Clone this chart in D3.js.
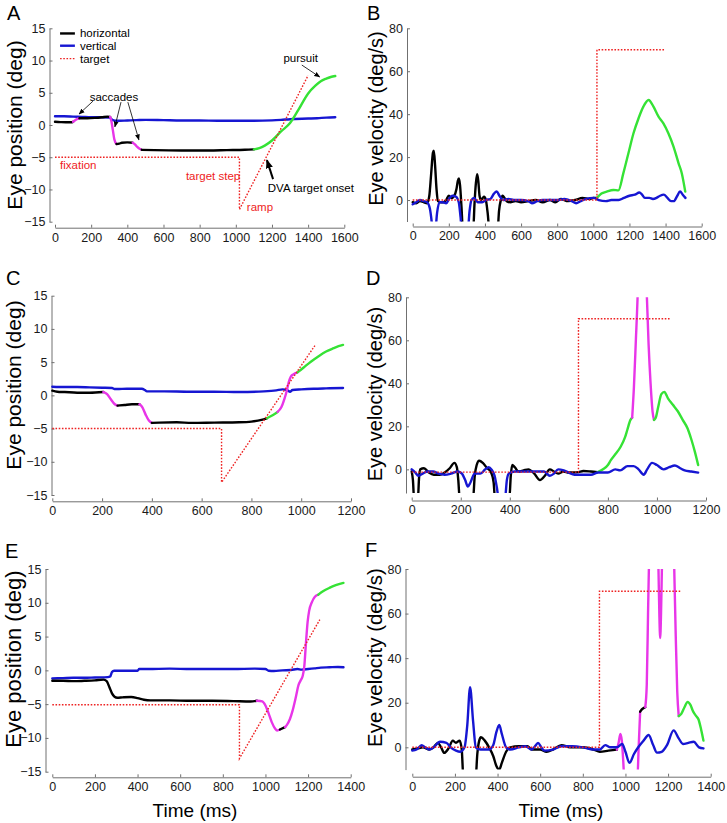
<!DOCTYPE html>
<html><head><meta charset="utf-8">
<script src="https://cdn.jsdelivr.net/npm/d3@7"></script>
<style>
body{margin:0;background:#fff;}
svg{display:block;font-family:"Liberation Sans",Arial,Helvetica,sans-serif;}
</style></head><body>
<svg id="chart" width="727" height="823"></svg>
<script>
// ---------------- DATA ----------------
// tick labels
const xTicks1600 = [0,200,400,600,800,1000,1200,1400,1600];
const xTicks1200 = [0,200,400,600,800,1000,1200];
const xTicks1400 = [0,200,400,600,800,1000,1200,1400];
const yTicksPos = [-15,-10,-5,0,5,10,15];
const yTicksVel = [0,20,40,60,80];

// Panel A: eye position (deg) vs time (ms)
const posA_h = [[0,0.5],[30,0.45],[60,0.42],[90,0.42],[100,0.5],[110,0.7],[120,0.9],[135,1.05],[180,1.05],[220,1.1],[260,1.2],[290,1.3],[305,1.25],[312,0.6],[320,-0.8],[328,-2.2],[340,-2.95],[355,-2.9],[370,-2.75],[400,-2.7],[430,-2.75],[442,-3.0],[455,-3.4],[468,-3.7],[480,-3.85],[550,-3.9],[700,-3.95],[850,-3.95],[950,-3.9],[1050,-3.85],[1100,-3.78],[1130,-3.6],[1160,-3.2],[1200,-2.4],[1250,-1.0],[1300,0.3],[1345,2.3],[1400,4.9],[1440,6.1],[1470,6.8],[1500,7.2],[1525,7.45],[1550,7.6]];
const posA_phase = [[0,100,'fix'],[100,135,'sac'],[135,305,'fix'],[305,340,'sac'],[340,430,'fix'],[430,480,'sac'],[480,1100,'fix'],[1100,1550,'pur']];
const posA_v = [[0,1.35],[50,1.35],[100,1.3],[150,1.25],[200,1.2],[250,1.2],[300,1.15],[320,0.75],[340,0.65],[400,0.7],[450,0.75],[500,0.8],[600,0.75],[700,0.7],[800,0.7],[900,0.65],[1000,0.65],[1100,0.65],[1200,0.72],[1250,0.8],[1300,0.9],[1400,1.0],[1450,1.05],[1500,1.15],[1550,1.2]];
const posA_target = [[0,-5],[1020,-5],[1020,-13.1],[1400,7.7]];

// Panel B: eye velocity (deg/s)
const velB_h = [[0,-1],[20,-1.5],[40,-0.5],[60,-1],[80,-1.5],[92,2],[102,12],[112,22],[117,23],[124,16],[132,5],[140,-0.5],[155,-1],[170,-1],[185,0],[200,2],[215,1],[230,2],[242,5],[250,9],[256,10],[262,7],[270,-3],[278,-14],[335,-14],[342,-2],[350,8],[357,12],[363,9],[370,2],[378,0],[388,1],[395,1.5],[405,0],[415,-6],[425,-14],[470,-14],[478,-5],[488,0],[498,2],[508,1],[520,-0.5],[540,-1],[570,-0.5],[600,-1],[640,-0.5],[680,0],[720,-1],[760,0],[790,-1],[820,0.5],[860,-0.5],[900,0],[940,1],[980,0.5],[1000,1],[1020,1],[1045,3],[1074,3.9],[1111,4.7],[1139,4.5],[1166,12.4],[1195,22],[1222,31],[1250,38],[1277,43.5],[1306,46.6],[1333,43.5],[1361,38.9],[1388,35.7],[1416,31],[1444,24.9],[1472,17.1],[1490,12.4],[1509,3.9]];
const velB_phase = [[0,1020,'fix'],[1020,1509,'pur']];
const velB_v = [[0,-2],[20,-1],[40,0],[60,-0.5],[80,-1],[95,-4],[105,-10],[110,-14],[125,-14],[135,-6],[148,-1],[165,-1],[185,-1.5],[205,1],[220,2],[240,1.5],[255,-1],[265,-8],[272,-14],[305,-14],[315,-5],[325,0],[340,1],[360,-1],[385,-1],[405,0],[430,0.5],[450,3],[465,4],[480,2],[500,0],[530,0.5],[560,0],[600,0],[640,-0.5],[660,-1.5],[690,-0.5],[720,0],[760,0],[800,0],[840,0.5],[880,-0.5],[905,-1.5],[930,-0.5],[960,0.5],[1000,1],[1030,0],[1070,-0.5],[1100,0],[1140,0],[1170,1],[1200,2],[1230,2.5],[1255,3.5],[1270,2.5],[1285,1],[1310,1],[1330,0.5],[1350,1],[1370,2],[1390,2.5],[1410,1],[1430,-0.5],[1445,-0.5],[1465,2],[1480,4],[1495,2.5],[1510,1]];
const velB_target = [[0,0],[1020,0],[1020,70],[1395,70]];

// Panel C: eye position
const posC_h = [[0,0.7],[20,0.55],[50,0.5],[100,0.4],[150,0.4],[205,0.5],[220,0.2],[235,-0.6],[250,-1.3],[262,-1.55],[290,-1.45],[320,-1.35],[350,-1.35],[362,-1.8],[375,-2.9],[388,-3.8],[400,-4.15],[430,-4.1],[500,-4.05],[560,-4.15],[650,-4.1],[750,-4.05],[800,-3.95],[840,-3.7],[862,-3.45],[885,-3.0],[905,-2.5],[920,-1.8],[932,-0.6],[942,0.7],[950,2.0],[958,2.8],[968,3.15],[985,3.45],[1010,4.2],[1040,5.1],[1070,5.9],[1100,6.6],[1130,7.1],[1150,7.4],[1168,7.6]];
const posC_phase = [[0,205,'fix'],[205,262,'sac'],[262,350,'fix'],[350,400,'sac'],[400,862,'fix'],[862,905,'pur'],[905,985,'sac'],[985,1168,'pur']];
const posC_v = [[0,1.3],[50,1.25],[100,1.25],[150,1.2],[200,1.15],[240,1.1],[250,0.95],[260,0.95],[300,1.0],[360,1.0],[372,0.8],[380,0.6],[450,0.6],[550,0.55],[650,0.55],[750,0.5],[850,0.6],[900,0.75],[925,0.9],[945,0.75],[955,0.55],[965,0.8],[1000,0.9],[1050,1.0],[1100,1.05],[1168,1.1]];
const posC_target = [[0,-5],[680,-5],[680,-13.1],[1055,7.5]];

// Panel D: eye velocity
const velD_h = [[0,-1],[5,-5],[10,-14],[25,-14],[30,-4],[35,0],[50,0.5],[70,-1.5],[90,-2.5],[115,-2.5],[134,-1.5],[155,0.5],[174,3],[184,1],[190,-5],[196,-14],[250,-14],[257,-3],[265,2],[275,4],[290,3],[308,0.5],[322,-1],[334,-6],[340,-14],[398,-14],[404,-3],[410,2],[420,1],[436,-1],[456,-0.5],[476,0],[500,-2],[523,-5],[543,-3],[563,0],[580,-1],[597,-2],[620,-1],[640,-1.5],[660,-1.5],[680,-1.3],[700,-0.8],[730,-1],[758,-1.3],[780,0],[800,2],[812,4.3],[830,7],[852,10.5],[870,15],[879,18.3],[892,23],[899,24],[906,38],[914,60],[921,80],[928,110],[952,110],[959,80],[966,58],[974,40],[982,27],[988,23],[995,24],[1005,29],[1018,35],[1030,36],[1045,33],[1065,30],[1085,27],[1105,23],[1125,19],[1140,14],[1155,8],[1168,2]];
const velD_phase = [[0,758,'fix'],[758,899,'pur'],[899,988,'sac'],[988,1168,'pur']];
const velD_v = [[0,0],[15,-1.5],[27,-3],[45,-2],[65,-1],[87,-1],[110,-2],[134,-2.5],[160,-2],[188,-1],[205,-2],[218,-5],[229,-8],[240,-6],[256,-2],[280,-2],[300,0],[314,1],[325,0],[338,-3],[348,-9],[355,-14],[380,-14],[388,-5],[396,-2],[420,-1],[450,-1],[500,-1],[540,-1],[563,-3],[580,-2],[597,0],[620,-0.5],[640,-1.5],[664,-2.5],[700,-2.5],[731,-2.5],[760,-1.5],[800,-1.5],[830,0],[850,-0.5],[880,1.5],[905,1.5],[925,0],[946,-2.5],[960,0],[980,3],[1000,2],[1027,0],[1050,1],[1073,1.8],[1095,0.5],[1113,-0.5],[1140,-1],[1168,-1.5]];
const velD_target = [[0,-1.3],[680,-1.3],[680,70],[1055,70]];

// Panel E: eye position
const posE_h = [[0,-1.55],[50,-1.55],[100,-1.6],[150,-1.55],[200,-1.48],[240,-1.38],[255,-1.6],[268,-2.5],[280,-3.4],[292,-3.9],[305,-4.05],[330,-4.0],[370,-3.95],[400,-4.1],[430,-4.35],[460,-4.45],[550,-4.45],[650,-4.5],[750,-4.5],[850,-4.55],[930,-4.6],[960,-4.5],[985,-4.6],[1000,-5.2],[1014,-6.3],[1030,-7.7],[1045,-8.6],[1055,-8.9],[1068,-8.75],[1092,-8.4],[1100,-8.1],[1115,-7.2],[1127,-6.0],[1143,-3.9],[1155,-2.2],[1165,-1.5],[1175,-0.8],[1182,0.5],[1190,4.0],[1198,7.2],[1205,8.8],[1218,10.1],[1232,10.9],[1248,11.2],[1270,11.7],[1300,12.2],[1330,12.6],[1366,12.95]];
const posE_phase = [[0,960,'fix'],[960,1068,'sac'],[1068,1092,'fix'],[1092,1248,'sac'],[1248,1366,'pur']];
const posE_v = [[0,-1.2],[50,-1.15],[100,-1.1],[150,-1.1],[200,-1.05],[260,-1.0],[272,-0.9],[280,-0.25],[290,-0.05],[350,-0.05],[400,-0.05],[408,0.2],[450,0.2],[550,0.25],[650,0.2],[750,0.2],[850,0.2],[950,0.25],[1000,0.2],[1015,-0.05],[1040,-0.1],[1080,0.0],[1120,0.05],[1150,0.2],[1170,0.1],[1200,0.2],[1230,0.3],[1260,0.4],[1300,0.45],[1340,0.5],[1366,0.45]];
const posE_target = [[0,-5.1],[878,-5.1],[878,-13.05],[1255,7.5]];

// Panel F: eye velocity
const velF_h = [[0,-1],[25,-0.5],[50,0],[80,-1],[100,0],[120,2],[135,0],[150,-2.5],[170,-0.5],[190,3],[205,2],[222,3],[232,-1],[240,-14],[297,-14],[305,-3],[314,3],[322,4.5],[340,3],[360,0],[380,-4],[395,-8.5],[408,-10],[420,-7],[440,-2],[460,0],[500,0.5],[540,0.5],[560,-1],[600,-1],[630,-2],[660,-1],[700,1],[740,0],[800,0],[850,-1],[880,-2],[920,-1.5],[960,-1],[968,2],[976,6],[983,3],[989,-5],[995,-14],[1056,-14],[1062,0],[1069,16],[1077,17],[1093,18],[1100,28],[1106,60],[1112,90],[1118,110],[1148,110],[1155,80],[1159,60],[1163,49],[1167,60],[1171,80],[1177,110],[1222,110],[1229,80],[1236,50],[1243,25],[1250,14],[1262,15],[1277,18],[1292,20.4],[1305,19],[1318,16],[1332,14],[1343,12.5],[1355,8],[1366,3]];
const velF_phase = [[0,960,'fix'],[960,1069,'sac'],[1069,1093,'fix'],[1093,1250,'sac'],[1250,1366,'pur']];
const velF_v = [[0,-1.5],[20,-1],[44,1],[60,0],[80,-1],[100,0],[130,2.5],[160,2],[180,0],[205,-1.5],[225,-2],[245,0],[258,10],[271,27],[285,12],[298,0],[320,-1],[360,-1],[380,1],[395,7],[408,10],[420,6],[440,0],[460,-1],[500,0],[530,0.5],[560,-1],[580,1],[590,2],[605,0],[620,-1.5],[660,-1],[700,0.5],[750,0.5],[800,0],[850,-1],[880,-1],[905,1],[930,0],[960,0],[985,1.5],[1000,-2],[1019,-7],[1040,-3],[1060,0],[1085,3],[1109,5.5],[1130,1],[1148,-2.4],[1170,-2],[1195,1],[1226,7.6],[1250,4],[1270,1.5],[1295,2],[1320,2.5],[1345,0],[1366,-0.5]];
const velF_target = [[0,0],[878,0],[878,70],[1257,70]];

// legend + annotations (panel A, data coordinates)
const legendItems = [['horizontal','h'],['vertical','v'],['target','t']];
const annotationsA = [
  {text:'saccades', at:[326,3.8], anchor:'middle', red:false},
  {text:'pursuit', at:[1359,9.8], anchor:'middle', red:false},
  {text:'DVA target onset', at:[1177,-10.4], anchor:'start', red:false},
  {text:'fixation', at:[28,-6.8], anchor:'start', red:true},
  {text:'target step', at:[724,-8.6], anchor:'start', red:true},
  {text:'ramp', at:[1061,-13.3], anchor:'start', red:true}
];
const arrowsA = [
  {from:[210,3.7], to:[133,1.7], bold:false},
  {from:[365,3.55], to:[331,-0.3], bold:false},
  {from:[403,3.55], to:[464,-2.3], bold:false},
  {from:[1365,9.3], to:[1464,7.45], bold:false},
  {from:[1206,-8.4], to:[1172,-5.45], bold:true}
];

// ---------------- LAYOUT / STYLE ----------------
const phaseColor = {fix:'#000000', sac:'#e835e8', pur:'#35e235'};
const colV = '#1616d2', colT = '#ee2222', axisCol = '#707070', textCol = '#1a1a1a';

const panels = [
  {id:'A', kind:'pos', h:posA_h, ph:posA_phase, v:posA_v, t:posA_target, xDomain:[0,1600], xRange:[55,344.3], xTicks:xTicks1600,
   yDomain:[-15,15], yRange:[221.7,28.3], yAxisX:49.5, xAxisY:227.7, ylab:[22,125], ylabSize:21, letter:[7,20]},
  {id:'B', kind:'vel', h:velB_h, ph:velB_phase, v:velB_v, t:velB_target, xDomain:[0,1600], xRange:[412.7,701.7], xTicks:xTicks1600,
   yDomain:[-10,80], yRange:[221.5,28.3], yAxisX:407, xAxisY:226.5, ylab:[382.5,118.5], ylabSize:20, letter:[367,20]},
  {id:'C', kind:'pos', h:posC_h, ph:posC_phase, v:posC_v, t:posC_target, xDomain:[0,1200], xRange:[52.3,351], xTicks:xTicks1200,
   yDomain:[-15,15], yRange:[495,295.7], yAxisX:51.5, xAxisY:501.3, ylab:[21,385], ylabSize:21, letter:[6,285]},
  {id:'D', kind:'vel', h:velD_h, ph:velD_phase, v:velD_v, t:velD_target, xDomain:[0,1200], xRange:[411.7,706], xTicks:xTicks1200,
   yDomain:[-11,80], yRange:[493,297.3], yAxisX:406, xAxisY:500.5, ylab:[381.5,394], ylabSize:20, letter:[366,285]},
  {id:'E', kind:'pos', h:posE_h, ph:posE_phase, v:posE_v, t:posE_target, xDomain:[0,1400], xRange:[52.3,350.7], xTicks:xTicks1400,
   yDomain:[-15,15], yRange:[771.7,569], yAxisX:45.5, xAxisY:777.3, ylab:[21,659], ylabSize:22, letter:[5,558], xlab:[195,816.5]},
  {id:'F', kind:'vel', h:velF_h, ph:velF_phase, v:velF_v, t:velF_target, xDomain:[0,1400], xRange:[412.3,710.7], xTicks:xTicks1400,
   yDomain:[-10,80], yRange:[769.6,569], yAxisX:405.5, xAxisY:776.7, ylab:[381.5,657.5], ylabSize:20.5, letter:[365,557], xlab:[561,816.5]}
];

const svg = d3.select('#chart');
const defs = svg.append('defs');
function marker(id, size){
  defs.append('marker').attr('id',id).attr('viewBox','0 0 10 10').attr('refX',9).attr('refY',5)
    .attr('markerUnits','userSpaceOnUse').attr('markerWidth',size).attr('markerHeight',size).attr('orient','auto')
    .append('path').attr('d','M0,1 L10,5 L0,9 z').attr('fill','#000');
}
marker('arrThin',6); marker('arrBold',9);
const fmt = d3.format('d');

panels.forEach(cfg => {
  const x = d3.scaleLinear().domain(cfg.xDomain).range(cfg.xRange);
  const y = d3.scaleLinear().domain(cfg.yDomain).range(cfg.yRange);
  const g = svg.append('g');

  // axes
  const xa = g.append('g').attr('transform',`translate(0,${cfg.xAxisY})`)
    .call(d3.axisBottom(x).tickValues(cfg.xTicks).tickFormat(fmt).tickSize(-3).tickSizeOuter(0).tickPadding(5));
  const ya = g.append('g').attr('transform',`translate(${cfg.yAxisX},0)`)
    .call(d3.axisLeft(y).tickValues(cfg.kind==='pos'?yTicksPos:yTicksVel).tickFormat(fmt).tickSize(-3).tickSizeOuter(0).tickPadding(4));
  [xa,ya].forEach(a=>{
    a.select('.domain').attr('stroke',axisCol).attr('stroke-width',1);
    a.selectAll('.tick line').attr('stroke',axisCol);
    a.selectAll('.tick text').attr('fill',textCol).style('font-size','12.5px')
      .style('font-family','"Liberation Sans",Arial,Helvetica,sans-serif');
  });

  // clip region
  const clipId = 'clip'+cfg.id;
  defs.append('clipPath').attr('id',clipId).append('rect')
    .attr('x',cfg.xRange[0]-4).attr('y',cfg.yRange[1])
    .attr('width',cfg.xRange[1]-cfg.xRange[0]+8).attr('height',cfg.yRange[0]-cfg.yRange[1]);
  const plot = g.append('g').attr('clip-path',`url(#${clipId})`);

  const line = d3.line().x(d=>x(d[0])).y(d=>y(d[1])).curve(d3.curveMonotoneX);
  const lineLin = d3.line().x(d=>x(d[0])).y(d=>y(d[1]));

  function drawV(){
    plot.append('path').datum(cfg.v).attr('d',line).attr('fill','none')
      .attr('stroke',colV).attr('stroke-width',2.4).attr('stroke-linejoin','round').attr('stroke-linecap','round');
  }
  function drawH(){
    cfg.ph.forEach(([s,e,type])=>{
      const seg = cfg.h.filter(d=>d[0]>=s && d[0]<=e);
      plot.append('path').datum(seg).attr('d',line).attr('fill','none')
        .attr('stroke',phaseColor[type]).attr('stroke-width',2.4).attr('stroke-linejoin','round').attr('stroke-linecap','round');
    });
  }
  if(cfg.kind==='pos'){ drawV(); drawH(); } else { drawH(); drawV(); }
  plot.append('path').datum(cfg.t).attr('d',lineLin).attr('fill','none')
    .attr('stroke',colT).attr('stroke-width',1.4).attr('stroke-dasharray','1.6,1.6');

  // labels
  g.append('text').attr('transform',`translate(${cfg.ylab[0]},${cfg.ylab[1]}) rotate(-90)`)
    .attr('text-anchor','middle').attr('fill','#000').style('font-size',cfg.ylabSize+'px')
    .text(cfg.kind==='pos'?'Eye position (deg)':'Eye velocity (deg/s)');
  g.append('text').attr('x',cfg.letter[0]).attr('y',cfg.letter[1]).attr('fill','#000')
    .style('font-size','20px').text(cfg.id);
  if(cfg.xlab){
    g.append('text').attr('x',cfg.xlab[0]).attr('y',cfg.xlab[1]).attr('text-anchor','middle')
      .attr('fill','#000').style('font-size','19px').text('Time (ms)');
  }

  if(cfg.id==='A'){
    // legend
    const legY = [14.2,12.3,10.3];
    legendItems.forEach(([name,key],i)=>{
      const ly = y(legY[i]);
      g.append('line').attr('x1',x(28)).attr('x2',x(110)).attr('y1',ly).attr('y2',ly)
        .attr('stroke', key==='h'?'#000':key==='v'?colV:colT)
        .attr('stroke-width', key==='t'?1.4:2.4)
        .attr('stroke-dasharray', key==='t'?'1.6,1.6':null);
      g.append('text').attr('x',x(138)).attr('y',ly).attr('dy','0.35em').attr('fill','#000')
        .style('font-size','11.5px').text(name);
    });
    annotationsA.forEach(a=>{
      g.append('text').attr('x',x(a.at[0])).attr('y',y(a.at[1])).attr('text-anchor',a.anchor)
        .attr('fill',a.red?'#ee1c1c':'#000').style('font-size','11.5px').text(a.text);
    });
    arrowsA.forEach(a=>{
      g.append('line').attr('x1',x(a.from[0])).attr('y1',y(a.from[1])).attr('x2',x(a.to[0])).attr('y2',y(a.to[1]))
        .attr('stroke','#000').attr('stroke-width',a.bold?2:0.8)
        .attr('marker-end',`url(#${a.bold?'arrBold':'arrThin'})`);
    });
  }
});
</script>
</body></html>
